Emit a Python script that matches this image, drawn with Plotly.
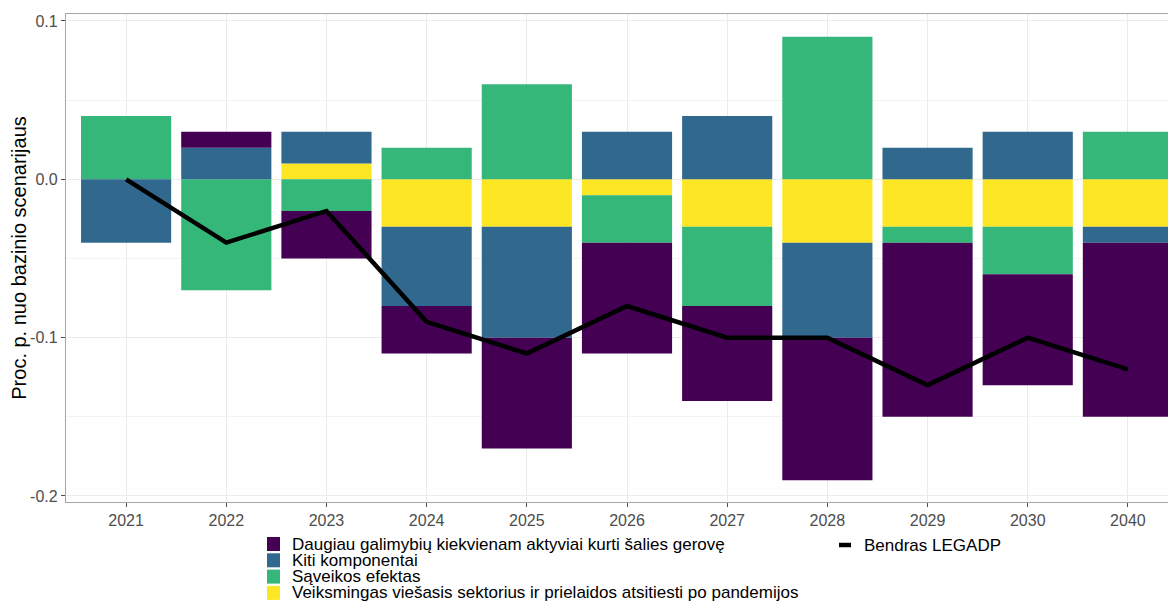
import plotly.graph_objects as go

years = ['2021', '2022', '2023', '2024', '2025', '2026', '2027', '2028', '2029', '2030', '2040']

# contributions, p.p. from baseline
daugiau = [0.00, 0.01, -0.03, -0.03, -0.07, -0.07, -0.06, -0.09, -0.11, -0.07, -0.11]
kiti = [-0.04, 0.02, 0.02, -0.05, -0.07, 0.03, 0.04, -0.06, 0.02, 0.03, -0.01]
saveikos = [0.04, -0.07, -0.02, 0.02, 0.06, -0.03, -0.05, 0.09, -0.01, -0.03, 0.03]
veiksmingas = [0.00, 0.00, 0.01, -0.03, -0.03, -0.01, -0.03, -0.04, -0.03, -0.03, -0.03]
bendras = [0.00, -0.04, -0.02, -0.09, -0.11, -0.08, -0.10, -0.10, -0.13, -0.10, -0.12]

y_ticks = [0.1, 0.0, -0.1, -0.2]
y_ticktext = ['0.1', '0.0', '-0.1', '-0.2']

names = ['Daugiau galimybių kiekvienam aktyviai kurti šalies gerovę',
         'Kiti komponentai',
         'Sąveikos efektas',
         'Veiksmingas viešasis sektorius ir prielaidos atsitiesti po pandemijos']
colors = ['#440154', '#31688E', '#35B779', '#FDE725']
series = [daugiau, kiti, saveikos, veiksmingas]

# page has an 8px body margin, so the figure is sized to end at the window edge
OFF = 8
W, H = 1176 - OFF, 601 - OFF
L, T, B = 66 - OFF, 14 - OFF, 502 - OFF


def px_x(px):
    return (px - OFF - L) / (W - L)


def px_y(py):
    return (B - (py - OFF)) / (B - T)


fig = go.Figure()

# ggplot stacks the last level closest to zero
for name, col, vals in reversed(list(zip(names, colors, series))):
    fig.add_trace(go.Bar(x=years, y=vals, name=name, width=0.9,
                         marker=dict(color=col, line=dict(width=0)),
                         showlegend=False))

fig.add_trace(go.Scatter(x=years, y=bendras, mode='lines', name='Bendras LEGADP',
                         line=dict(color='black', width=4.5), showlegend=False))

# legend drawn by hand to get ggplot's tight spacing
shapes = []
annotations = []
for i, (name, col) in enumerate(zip(names, colors)):
    cy = 544 + i * 16.3
    shapes.append(dict(type='rect', xref='paper', yref='paper',
                       x0=px_x(267), x1=px_x(280), y0=px_y(cy - 7), y1=px_y(cy + 7),
                       fillcolor=col, line=dict(width=0)))
    annotations.append(dict(text=name, xref='paper', yref='paper', x=px_x(290), y=px_y(cy),
                            xanchor='left', yanchor='middle', showarrow=False,
                            font=dict(size=17, color='black')))
shapes.append(dict(type='line', xref='paper', yref='paper',
                   x0=px_x(839), x1=px_x(851), y0=px_y(545), y1=px_y(545),
                   line=dict(color='black', width=4.5)))
annotations.append(dict(text='Bendras LEGADP', xref='paper', yref='paper', x=px_x(862), y=px_y(545),
                        xanchor='left', yanchor='middle', showarrow=False,
                        font=dict(size=17, color='black')))

fig.update_layout(
    width=W, height=H,
    barmode='relative',
    margin=dict(l=L, r=0, t=T, b=H - B),
    plot_bgcolor='white',
    paper_bgcolor='white',
    font=dict(family='Liberation Sans, Arial, sans-serif', size=16, color='#4d4d4d'),
    shapes=shapes,
    annotations=annotations,
)
fig.update_xaxes(
    type='category', range=[-0.6, 10.48],
    showgrid=True, gridcolor='#ebebeb', gridwidth=1,
    showline=True, linecolor='#a6a6a6', linewidth=1.2, mirror=True,
    ticks='outside', ticklen=4, tickcolor='#4d4d4d',
    tickfont=dict(size=16, color='#4d4d4d'),
)
fig.update_yaxes(
    range=[-0.2038, 0.1044],
    tickvals=y_ticks, ticktext=y_ticktext,
    showgrid=True, gridcolor='#ebebeb', gridwidth=1,
    minor=dict(dtick=0.05, showgrid=True, gridcolor='#f3f3f3', gridwidth=1),
    zeroline=False,
    showline=True, linecolor='#a6a6a6', linewidth=1.2,
    ticks='outside', ticklen=4, tickcolor='#4d4d4d',
    tickfont=dict(size=16, color='#4d4d4d'),
    title=dict(text='Proc. p. nuo bazinio scenarijaus', font=dict(size=20, color='black'), standoff=2),
)

fig.write_html("out.html")
